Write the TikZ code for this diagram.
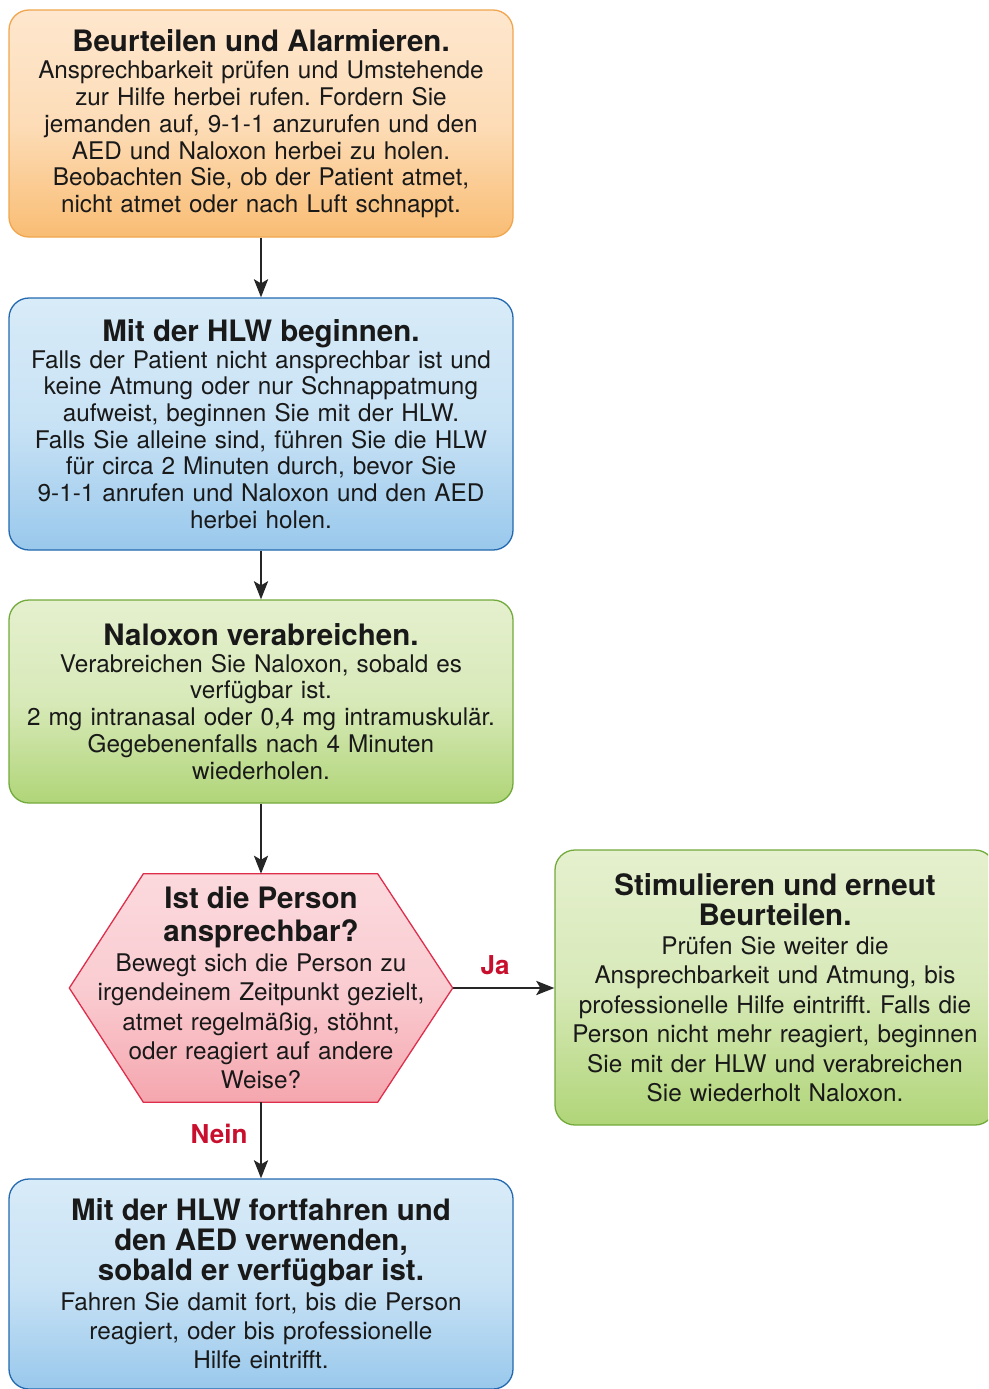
\documentclass[tikz,border=0pt]{standalone}
\usepackage{fontspec}
\setmainfont{TeX Gyre Heros}
\usepackage{tikz}
\usetikzlibrary{arrows.meta,backgrounds}
\frenchspacing

\definecolor{orangehell}{RGB}{254,231,206}
\definecolor{orangedunkel}{RGB}{249,189,116}
\definecolor{orangerand}{RGB}{240,166,78}
\definecolor{blauhell}{RGB}{216,235,248}
\definecolor{blaudunkel}{RGB}{153,200,236}
\definecolor{blaurand}{RGB}{35,105,175}
\definecolor{gruenhell}{RGB}{229,240,206}
\definecolor{gruendunkel}{RGB}{176,213,120}
\definecolor{gruenrand}{RGB}{115,170,60}
\definecolor{rosahell}{RGB}{251,217,221}
\definecolor{rosadunkel}{RGB}{245,166,174}
\definecolor{rosarand}{RGB}{222,46,76}
\definecolor{jarot}{RGB}{200,16,46}

\newcommand{\titel}{\fontsize{29.5}{30}\selectfont\bfseries}
\newcommand{\fliess}{\fontsize{24.3}{26.7}\selectfont}
\newcommand{\fliessweit}{\fontsize{24.3}{29.4}\selectfont}

\tikzset{
  kasten/.style={draw, rounded corners=20pt, line width=1.3pt, inner sep=0pt,
    align=center, font=\fliess, text=black!90},
  orangekasten/.style={kasten, draw=orangerand, top color=orangehell,
    bottom color=orangedunkel, middle color=orangehell!75!orangedunkel},
  blaukasten/.style={kasten, draw=blaurand, top color=blauhell,
    bottom color=blaudunkel, middle color=blauhell!75!blaudunkel},
  gruenkasten/.style={kasten, draw=gruenrand, top color=gruenhell,
    bottom color=gruendunkel, middle color=gruenhell!75!gruendunkel},
  pfeil/.style={line width=2.8pt, draw=black!85, -{Stealth[length=18pt,width=14pt,inset=4pt]}},
  antwort/.style={font=\fontsize{26}{26}\selectfont\bfseries, text=jarot, inner sep=0pt}
}

\begin{document}
\begin{tikzpicture}[x=1pt,y=-1pt]
  \useasboundingbox (0,0) rectangle (988,1389);
  \clip (0,0) rectangle (988,1389);

  \node[orangekasten, minimum width=504pt, minimum height=227pt, text width=490pt]
    (beurteilen) at (261,123.5)
    {{\titel Beurteilen und Alarmieren.\par}\vspace{1pt}
     Ansprechbarkeit prüfen und Umstehende\\
     zur Hilfe herbei rufen. Fordern Sie\\
     jemanden auf, 9-1-1 anzurufen und den\\
     AED und Naloxon herbei zu holen.\\
     Beobachten Sie, ob der Patient atmet,\\
     nicht atmet oder nach Luft schnappt.};

  \node[blaukasten, minimum width=504pt, minimum height=252pt, text width=490pt]
    (hlw) at (261,424)
    {{\titel Mit der HLW beginnen.\par}
     Falls der Patient nicht ansprechbar ist und\\
     keine Atmung oder nur Schnappatmung\\
     aufweist, beginnen Sie mit der HLW.\\
     Falls Sie alleine sind, führen Sie die HLW\\
     für circa 2 Minuten durch, bevor Sie\\
     9-1-1 anrufen und Naloxon und den AED\\
     herbei holen.};

  \node[gruenkasten, minimum width=504pt, minimum height=203pt, text width=490pt]
    (naloxon) at (261,701.5)
    {{\titel Naloxon verabreichen.\par}
     Verabreichen Sie Naloxon, sobald es\\
     verfügbar ist.\\
     2 mg intranasal oder 0,4 mg intramuskulär.\\
     Gegebenenfalls nach 4 Minuten\\
     wiederholen.};

  \node[inner sep=0pt, minimum width=383pt, minimum height=228pt, text width=360pt,
    align=center, font=\fliessweit, text=black!90]
    (frage) at (261,988)
    {{\fontsize{29.5}{33}\selectfont\bfseries Ist die Person\\ ansprechbar?\par}
     Bewegt sich die Person zu\\
     irgendeinem Zeitpunkt gezielt,\\
     atmet regelmäßig, stöhnt,\\
     oder reagiert auf andere\\
     Weise?};
  \begin{scope}[on background layer]
    \draw[draw=rosarand, line width=1.3pt, top color=rosahell, bottom color=rosadunkel,
      middle color=rosahell!75!rosadunkel]
      (frage.west) -- ([xshift=74pt]frage.north west) -- ([xshift=-75pt]frage.north east)
      -- (frage.east) -- ([xshift=-75pt]frage.south east)
      -- ([xshift=74pt]frage.south west) -- cycle;
  \end{scope}

  \node[gruenkasten, font=\fliessweit, minimum width=440pt, minimum height=275pt,
    text width=420pt] (stimulieren) at (775,987.5)
    {{\titel Stimulieren und erneut\\ Beurteilen.\par}
     Prüfen Sie weiter die\\
     Ansprechbarkeit und Atmung, bis\\
     professionelle Hilfe eintrifft. Falls die\\
     Person nicht mehr reagiert, beginnen\\
     Sie mit der HLW und verabreichen\\
     Sie wiederholt Naloxon.};

  \node[blaukasten, font=\fliessweit, minimum width=504pt, minimum height=210pt,
    text width=490pt] (fortfahren) at (261,1284)
    {{\titel Mit der HLW fortfahren und\\ den AED verwenden,\\ sobald er verfügbar ist.\par}
     Fahren Sie damit fort, bis die Person\\
     reagiert, oder bis professionelle\\
     Hilfe eintrifft.};

  \draw[pfeil] (beurteilen) -- (hlw);
  \draw[pfeil] (hlw) -- (naloxon);
  \draw[pfeil] (naloxon) -- (frage);
  \draw[pfeil] (frage.east) -- (frage.east -| stimulieren.west);
  \draw[pfeil] (frage) -- (fortfahren);

  \node[antwort] (ja) at (495,965) {Ja};
  \node[antwort] (nein) at (219,1134) {Nein};
\end{tikzpicture}
\end{document}
